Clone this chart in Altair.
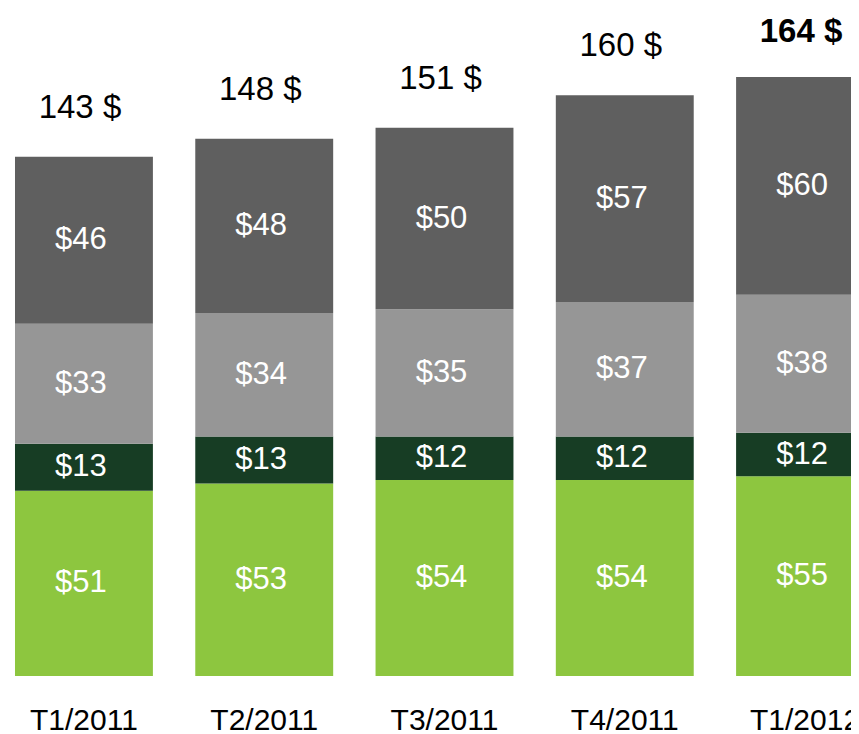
import altair as alt
import pandas as pd

quarters = ["T1/2011", "T2/2011", "T3/2011", "T4/2011", "T1/2012"]
seg1 = [51, 53, 54, 54, 55]   # bottom (green)
seg2 = [13, 13, 12, 12, 12]   # dark green
seg3 = [33, 34, 35, 37, 38]   # light grey
seg4 = [46, 48, 50, 57, 60]   # dark grey (top)
totals = [143, 148, 151, 160, 164]
series = ["s1", "s2", "s3", "s4"]
colors = ["#8DC63F", "#173D24", "#969696", "#5F5F5F"]

rows = []
for i, q in enumerate(quarters):
    for k, (name, vals) in enumerate(zip(series, [seg1, seg2, seg3, seg4])):
        rows.append({"quarter": q, "series": name, "order": k, "value": vals[i]})
df = pd.DataFrame(rows)
tot = pd.DataFrame({"quarter": quarters, "total": totals})

FONT = "Liberation Sans"
yscale = alt.Scale(domain=[0, 184], nice=False, zero=True)
x = alt.X(
    "quarter:N",
    sort=quarters,
    scale=alt.Scale(range=[0, 873], paddingInner=0.235, paddingOuter=0.0388),
    axis=alt.Axis(
        title=None, domain=False, ticks=False, labelAngle=0, labelFontSize=30,
        labelFont=FONT, labelColor="black", labelPadding=29, labelOverlap=False,
    ),
)

bars = alt.Chart(df).mark_bar().encode(
    x=x,
    y=alt.Y("value:Q", stack="zero", scale=yscale, axis=None),
    color=alt.Color("series:N", scale=alt.Scale(domain=series, range=colors), legend=None),
    order=alt.Order("order:Q"),
)

seg_labels = (
    alt.Chart(df)
    .transform_stack(stack="value", as_=["y0", "y1"], groupby=["quarter"],
                     sort=[alt.SortField("order", order="ascending")])
    .transform_calculate(mid="(datum.y0 + datum.y1) / 2", label="'$' + datum.value")
    .mark_text(color="white", fontSize=31, font=FONT, baseline="middle", dx=-3)
    .encode(x=x, y=alt.Y("mid:Q", scale=yscale, axis=None), text="label:N")
)

tot_base = alt.Chart(tot).transform_calculate(lbl="datum.total + ' $'")
tot_normal = (
    tot_base.transform_filter(alt.datum.quarter != quarters[-1])
    .mark_text(color="black", fontSize=33, font=FONT, baseline="middle", dy=-49, dx=-4)
    .encode(x=x, y=alt.Y("total:Q", scale=yscale, axis=None), text="lbl:N")
)
tot_bold = (
    tot_base.transform_filter(alt.datum.quarter == quarters[-1])
    .mark_text(color="black", fontSize=33, font=FONT, fontWeight="bold",
               baseline="middle", dy=-49, dx=-4)
    .encode(x=x, y=alt.Y("total:Q", scale=yscale, axis=None), text="lbl:N")
)

chart = (
    alt.layer(bars, seg_labels, tot_normal, tot_bold)
    .properties(
        width=843, height=668,
        autosize=alt.AutoSizeParams(type="none"),
        padding={"left": 0, "top": 0, "right": 0, "bottom": 58},
    )
    .configure_view(stroke=None)
)

chart.save("out.html", embed_options={"renderer": "svg", "actions": False})
